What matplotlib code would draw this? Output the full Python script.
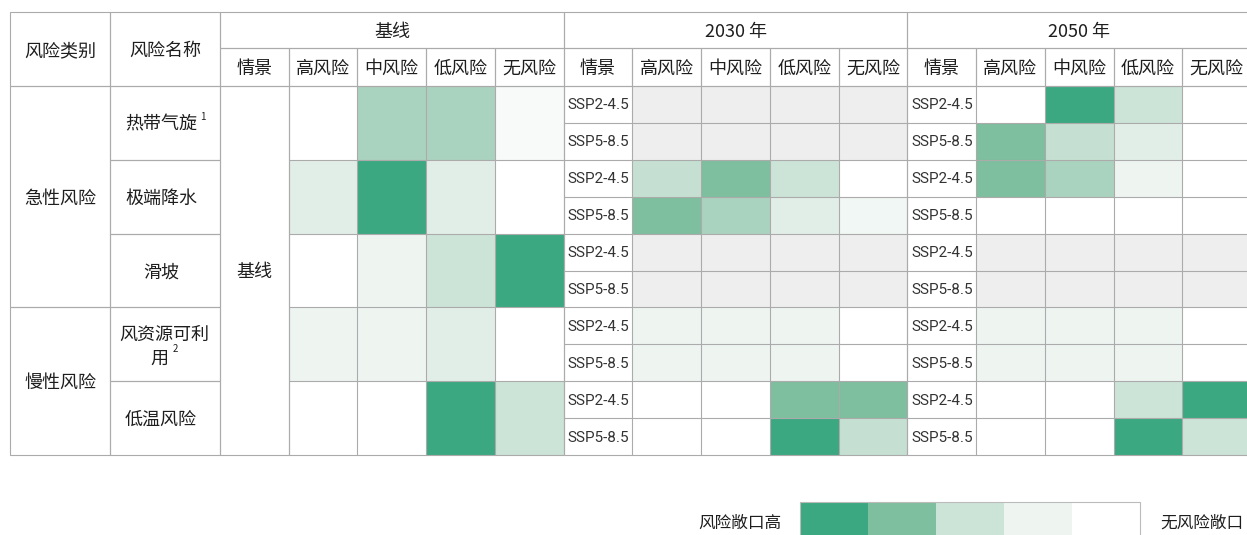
import numpy as np
import matplotlib.pyplot as plt
from matplotlib.colors import LinearSegmentedColormap
from matplotlib.patches import Rectangle

plt.rcParams['font.family'] = ['Noto Sans CJK SC', 'DejaVu Sans']

# ---- data ----
risk_types = ['急性风险', '慢性风险']
risk_type_counts = [3, 2]
risk_names = ['热带气旋', '极端降水', '滑坡', '风资源可利\n用', '低温风险']
risk_notes = ['1', '', '', '2', '']
levels = ['高风险', '中风险', '低风险', '无风险']
scenarios = ['SSP2-4.5', 'SSP5-8.5']
periods = ['基线', '2030 年', '2050 年']
legend_left = '风险敞口高'
legend_right = '无风险敞口'

# exposure level, 1 = highest, 0 = none, nan = not assessed
baseline = [
    [0.00, 0.61, 0.61, 0.12],
    [0.35, 1.00, 0.35, 0.00],
    [0.00, 0.25, 0.50, 1.00],
    [0.25, 0.25, 0.35, 0.00],
    [0.00, 0.00, 1.00, 0.50],
]
nan = np.nan
y2030 = [
    [nan, nan, nan, nan],
    [nan, nan, nan, nan],
    [0.525, 0.75, 0.50, 0.00],
    [0.75, 0.61, 0.35, 0.20],
    [nan, nan, nan, nan],
    [nan, nan, nan, nan],
    [0.25, 0.25, 0.25, 0.00],
    [0.25, 0.25, 0.25, 0.00],
    [0.00, 0.00, 0.75, 0.75],
    [0.00, 0.00, 1.00, 0.525],
]
y2050 = [
    [0.00, 1.00, 0.50, 0.00],
    [0.75, 0.525, 0.35, 0.00],
    [0.75, 0.61, 0.25, 0.00],
    [0.00, 0.00, 0.00, 0.00],
    [nan, nan, nan, nan],
    [nan, nan, nan, nan],
    [0.25, 0.25, 0.25, 0.00],
    [0.25, 0.25, 0.25, 0.00],
    [0.00, 0.00, 0.50, 1.00],
    [0.00, 0.00, 1.00, 0.50],
]
legend_steps = [1.0, 0.75, 0.5, 0.25, 0.0]

# ---- style / layout ----
cmap = LinearSegmentedColormap.from_list(
    'exp', ['#ffffff', '#eef5f1', '#cde4d8', '#7fbf9f', '#3ba882'])
cmap.set_bad('#eeeeee')
grid_c = '#ababab'
txt_c = '#1e1e1e'
lw = 0.8
fs = 13
dy = 2  # CJK glyphs sit a little high with va='center'

x0, top = 10, 12
w_type, w_name, w_scen, w_lvl = 100, 110, 68.5, 68.8
h_head1, h_head2 = 36, 38
h_row = 36.9
n_rows = len(risk_names) * len(scenarios)

fig = plt.figure(figsize=(12.47, 5.35), dpi=100)
ax = fig.add_axes([0, 0, 1, 1])
ax.set_xlim(0, 1247)
ax.set_ylim(535, 0)
ax.axis('off')

body_top = top + h_head1 + h_head2
body_bot = body_top + n_rows * h_row
row_edges = body_top + h_row * np.arange(n_rows + 1)
risk_edges = row_edges[::2]


def cell(x, y, w, h, text=None):
    ax.add_patch(Rectangle((x, y), w, h, fill=False, ec=grid_c, lw=lw, zorder=3))
    if text is not None:
        ax.text(x + w / 2, y + h / 2 + dy, text, ha='center', va='center',
                color=txt_c, fontsize=fs, zorder=4)


# left header cells
cell(x0, top, w_type, h_head1 + h_head2, '风险类别')
cell(x0 + w_type, top, w_name, h_head1 + h_head2, '风险名称')

# risk type column
y = body_top
for name, cnt in zip(risk_types, risk_type_counts):
    h = cnt * 2 * h_row
    cell(x0, y, w_type, h, name)
    y += h

# risk name column
xn = x0 + w_type
for i, (name, note) in enumerate(zip(risk_names, risk_notes)):
    yy = risk_edges[i]
    cell(xn, yy, w_name, 2 * h_row)
    cx, cy = xn + w_name / 2, yy + h_row + dy
    lines = name.split('\n')
    if len(lines) == 1:
        ax.text(cx - 4, cy, name, ha='center', va='center', color=txt_c,
                fontsize=fs, zorder=4)
        if note:
            ax.text(cx + 35, cy - 8, note, ha='left', va='center',
                    color=txt_c, fontsize=7, zorder=4)
    else:
        ax.text(cx - 1, cy - 12, lines[0], ha='center', va='center',
                color=txt_c, fontsize=fs, zorder=4)
        ax.text(cx - 6, cy + 12, lines[1], ha='center', va='center',
                color=txt_c, fontsize=fs, zorder=4)
        ax.text(cx + 8, cy + 3, note, ha='left', va='center',
                color=txt_c, fontsize=7, zorder=4)

# period blocks
block_w = w_scen + 4 * w_lvl
xb = x0 + w_type + w_name
for p, period in enumerate(periods):
    bx = xb + p * block_w
    cell(bx, top, block_w, h_head1, period)
    cell(bx, top + h_head1, w_scen, h_head2, '情景')
    for j, lv in enumerate(levels):
        cell(bx + w_scen + j * w_lvl, top + h_head1, w_lvl, h_head2, lv)
    xe = bx + w_scen + w_lvl * np.arange(5)
    if p == 0:
        cell(bx, body_top, w_scen, body_bot - body_top, '基线')
        ax.pcolormesh(xe, risk_edges, np.array(baseline), cmap=cmap,
                      vmin=0, vmax=1, zorder=2)
        ax.hlines(risk_edges, xe[0], xe[-1], colors=grid_c, lw=lw, zorder=3)
    else:
        vals = y2030 if p == 1 else y2050
        ax.pcolormesh(xe, row_edges, np.array(vals), cmap=cmap, vmin=0, vmax=1,
                      zorder=2)
        ax.hlines(row_edges, bx, xe[-1], colors=grid_c, lw=lw, zorder=3)
        for r in range(n_rows):
            ax.text(bx + 4, row_edges[r] + h_row / 2 + 1, scenarios[r % 2],
                    ha='left', va='center', color='#333333', fontsize=11,
                    family=['Roboto', 'DejaVu Sans'], zorder=4)
        ax.vlines([bx], body_top, body_bot, colors=grid_c, lw=lw, zorder=3)
    ax.vlines(xe, body_top, body_bot, colors=grid_c, lw=lw, zorder=3)

# legend
lx, ly, lw_box, lh = 800, 502, 68, 40
lxe = lx + lw_box * np.arange(len(legend_steps) + 1)
ax.pcolormesh(lxe, [ly, ly + lh], [legend_steps], cmap=cmap, vmin=0, vmax=1,
              zorder=2)
ax.add_patch(Rectangle((lx, ly), lxe[-1] - lx, lh, fill=False, ec='#bbbbbb',
                       lw=lw, zorder=3))
ax.text(lx - 19, 521 + dy, legend_left, ha='right', va='center', color=txt_c,
        fontsize=12)
ax.text(lxe[-1] + 20, 521 + dy, legend_right, ha='left', va='center',
        color=txt_c, fontsize=12)

fig.savefig('out.png', dpi=100)
